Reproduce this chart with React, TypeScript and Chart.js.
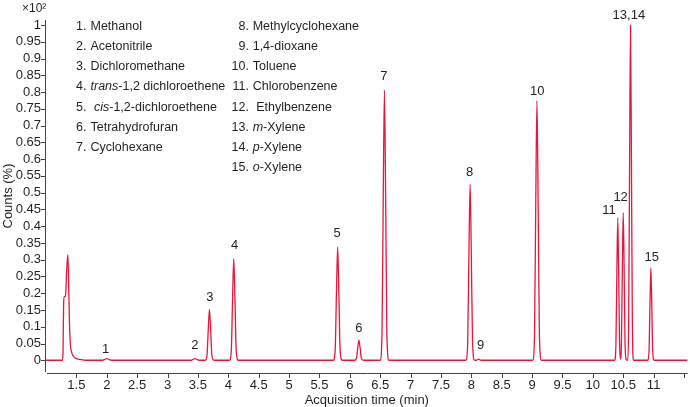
import React, { useEffect, useRef } from "react";
import { Chart, registerables } from "chart.js";

Chart.register(...registerables);

// ---- Data ----
const traceTimes = [
  1.0, 1.27,
  1.28, 1.29, 1.3, 1.315, 1.325, 1.34, 1.36, 1.37, 1.385, 1.4, 1.42, 1.45, 1.5, 1.58, 1.65, 1.72,
  1.93, 1.97, 2.0, 2.03, 2.08,
  3.39, 3.42, 3.45, 3.48, 3.52,
  3.62, 3.65, 3.67, 3.69, 3.71, 3.73, 3.765,
  4.02, 4.05, 4.07, 4.09, 4.11, 4.13, 4.165,
  5.73, 5.76, 5.78, 5.8, 5.82, 5.84, 5.875,
  6.08, 6.11, 6.13, 6.15, 6.17, 6.19, 6.225,
  6.5, 6.53, 6.55, 6.57, 6.59, 6.61, 6.645,
  7.91, 7.94, 7.96, 7.98, 8.0, 8.02, 8.055,
  8.08, 8.12, 8.16,
  9.01, 9.04, 9.06, 9.08, 9.1, 9.12, 9.155,
  10.36, 10.38, 10.395, 10.41, 10.425, 10.44, 10.455,
  10.47, 10.485, 10.5, 10.515, 10.53, 10.55,
  10.575, 10.59, 10.605, 10.62, 10.635, 10.65, 10.67,
  10.9, 10.925, 10.94, 10.955, 10.97, 10.985, 11.01,
  11.56,
];
const traceCounts = [
  0, 0,
  0.02, 0.17, 0.19, 0.19, 0.2, 0.27, 0.315, 0.25, 0.12, 0.05, 0.025, 0.012, 0.005, 0.002, 0.0, 0,
  0, 0.003, 0.005, 0.003, 0,
  0, 0.003, 0.005, 0.003, 0,
  0, 0.015, 0.09, 0.152, 0.09, 0.015, 0,
  0, 0.03, 0.18, 0.303, 0.18, 0.03, 0,
  0, 0.034, 0.2, 0.338, 0.2, 0.034, 0,
  0, 0.006, 0.036, 0.06, 0.036, 0.006, 0,
  0, 0.08, 0.48, 0.806, 0.48, 0.08, 0,
  0, 0.052, 0.315, 0.525, 0.315, 0.052, 0,
  0, 0.003, 0,
  0, 0.077, 0.46, 0.774, 0.46, 0.077, 0,
  0, 0.05, 0.26, 0.425, 0.26, 0.05, 0.003,
  0.05, 0.27, 0.44, 0.27, 0.05, 0.002,
  0, 0.12, 0.6, 1.0, 0.6, 0.12, 0,
  0, 0.03, 0.165, 0.275, 0.165, 0.03, 0,
  0,
];

const peakLabels = ["1", "2", "3", "4", "5", "6", "7", "8", "9", "10", "11", "12", "13,14", "15"];
const peakLabelTimes = [1.98, 3.45, 3.695, 4.105, 5.79, 6.15, 6.562, 7.972, 8.153, 9.086, 10.264, 10.457, 10.593, 10.97];
const peakLabelCounts = [0.033, 0.045, 0.188, 0.343, 0.379, 0.096, 0.848, 0.561, 0.045, 0.803, 0.448, 0.487, 1.03, 0.307];

const compoundNumbersLeft = ["1.", "2.", "3.", "4.", "5.", "6.", "7."];
const compoundNamesLeft = [
  "Methanol",
  "Acetonitrile",
  "Dichloromethane",
  "*trans*-1,2 dichloroethene",
  " *cis*-1,2-dichloroethene",
  "Tetrahydrofuran",
  "Cyclohexane",
];
const compoundNumbersRight = ["8.", "9.", "10.", "11.", "12.", "13.", "14.", "15."];
const compoundNamesRight = [
  "Methylcyclohexane",
  "1,4-dioxane",
  "Toluene",
  "Chlorobenzene",
  " Ethylbenzene",
  "*m*-Xylene",
  "*p*-Xylene",
  "*o*-Xylene",
];

const xMin = 1.0;
const xMax = 11.56;
const xTickValues = [1.5, 2, 2.5, 3, 3.5, 4, 4.5, 5, 5.5, 6, 6.5, 7, 7.5, 8, 8.5, 9, 9.5, 10, 10.5, 11, 11.5];
const xTickLabels = ["1.5", "2", "2.5", "3", "3.5", "4", "4.5", "5", "5.5", "6", "6.5", "7", "7.5", "8", "8.5", "9", "9.5", "10", "10.5", "11", ""];
const yMin = -0.035;
const yMax = 1.015;
const yTickValues = [0, 0.05, 0.1, 0.15, 0.2, 0.25, 0.3, 0.35, 0.4, 0.45, 0.5, 0.55, 0.6, 0.65, 0.7, 0.75, 0.8, 0.85, 0.9, 0.95, 1];
const yTickLabels = ["0", "0.05", "0.1", "0.15", "0.2", "0.25", "0.3", "0.35", "0.4", "0.45", "0.5", "0.55", "0.6", "0.65", "0.7", "0.75", "0.8", "0.85", "0.9", "0.95", "1"];

const xTitle = "Acquisition time (min)";
const yTitle = "Counts (%)";
const yMultiplier = "×10²";

// ---- Styles ----
const LINE = "#e2183f";
const TEXT = "#231f20";
const AXIS = "#444";
const FONT = "'Liberation Sans', Arial, sans-serif";

function drawSegments(ctx: CanvasRenderingContext2D, text: string, x: number, y: number, size: number) {
  const parts = text.split("*");
  let cx = x;
  parts.forEach((p, i) => {
    ctx.font = `${i % 2 === 1 ? "italic " : ""}${size}px ${FONT}`;
    ctx.fillText(p, cx, y);
    cx += ctx.measureText(p).width;
  });
}

const overlayPlugin = {
  id: "overlay",
  afterDraw(chart: any) {
    const { ctx, chartArea, scales } = chart;
    const xs = scales.x;
    const ys = scales.y;
    ctx.save();

    // axis lines and tick marks
    ctx.strokeStyle = AXIS;
    ctx.lineWidth = 1;
    ctx.beginPath();
    ctx.moveTo(chartArea.left - 0.5, chartArea.top);
    ctx.lineTo(chartArea.left - 0.5, chartArea.bottom);
    ctx.moveTo(chartArea.left + 1, chartArea.bottom + 1.5);
    ctx.lineTo(chartArea.right, chartArea.bottom + 1.5);
    ys.ticks.forEach((t: any) => {
      const py = Math.round(ys.getPixelForValue(t.value)) + 0.5;
      ctx.moveTo(chartArea.left - 5, py);
      ctx.lineTo(chartArea.left - 1, py);
    });
    xs.ticks.forEach((t: any) => {
      const px = Math.round(xs.getPixelForValue(t.value)) + 0.5;
      ctx.moveTo(px, chartArea.bottom + 2);
      ctx.lineTo(px, chartArea.bottom + 6);
    });
    ctx.stroke();

    ctx.fillStyle = TEXT;

    // peak labels
    ctx.font = `13px ${FONT}`;
    ctx.textAlign = "center";
    ctx.textBaseline = "middle";
    peakLabels.forEach((lab, i) => {
      ctx.fillText(lab, xs.getPixelForValue(peakLabelTimes[i]), ys.getPixelForValue(peakLabelCounts[i]));
    });

    // compound legend
    const rowTop = chartArea.top + 6.7;
    const rowGap = 20.1;
    const drawCol = (nums: string[], names: string[], numRight: number, textLeft: number) => {
      nums.forEach((n, i) => {
        const y = rowTop + i * rowGap;
        ctx.font = `12.5px ${FONT}`;
        ctx.textAlign = "right";
        ctx.fillText(n, numRight, y);
        ctx.textAlign = "left";
        drawSegments(ctx, names[i], textLeft, y, 12.5);
      });
    };
    drawCol(compoundNumbersLeft, compoundNamesLeft, chartArea.left + 40.5, chartArea.left + 44.5);
    drawCol(compoundNumbersRight, compoundNamesRight, chartArea.left + 203, chartArea.left + 206.7);

    // titles
    ctx.font = `13px ${FONT}`;
    ctx.textAlign = "center";
    ctx.textBaseline = "middle";
    ctx.fillText(xTitle, (chartArea.left + chartArea.right) / 2, chartArea.bottom + 28);
    ctx.save();
    ctx.translate(8, (chartArea.top + chartArea.bottom) / 2);
    ctx.rotate(-Math.PI / 2);
    ctx.fillText(yTitle, 0, 0);
    ctx.restore();
    ctx.font = `12px ${FONT}`;
    ctx.textAlign = "left";
    ctx.textBaseline = "alphabetic";
    ctx.fillText(yMultiplier, chartArea.left - 24, chartArea.top - 8);

    ctx.restore();
  },
};

export default function App() {
  const canvasRef = useRef<HTMLCanvasElement | null>(null);

  useEffect(() => {
    if (!canvasRef.current) return;
    const points = traceTimes.map((t, i) => ({ x: t, y: traceCounts[i] }));
    const chart = new Chart(canvasRef.current, {
      type: "line",
      data: {
        datasets: [
          {
            data: points,
            borderColor: LINE,
            borderWidth: 1.3,
            pointRadius: 0,
            cubicInterpolationMode: "monotone",
            fill: false,
          },
        ],
      },
      options: {
        responsive: false,
        animation: false,
        events: [],
        layout: { padding: { top: 20, right: 2, left: 0, bottom: 0 } },
        plugins: { legend: { display: false }, tooltip: { enabled: false }, title: { display: false } },
        scales: {
          x: {
            type: "linear",
            min: xMin,
            max: xMax,
            grid: { display: false, drawTicks: false },
            border: { display: false },
            afterBuildTicks: (s: any) => {
              s.ticks = xTickValues.map((v) => ({ value: v }));
            },
            afterFit: (s: any) => {
              s.height = 35;
            },
            ticks: {
              autoSkip: false,
              maxRotation: 0,
              padding: 6,
              color: TEXT,
              font: { family: FONT, size: 13 },
              callback: (_v: any, i: number) => xTickLabels[i],
            },
          },
          y: {
            type: "linear",
            min: yMin,
            max: yMax,
            grid: { display: false, drawTicks: false },
            border: { display: false },
            afterBuildTicks: (s: any) => {
              s.ticks = yTickValues.map((v) => ({ value: v }));
            },
            afterFit: (s: any) => {
              s.width = 46;
            },
            ticks: {
              autoSkip: false,
              padding: 5,
              color: TEXT,
              font: { family: FONT, size: 13 },
              callback: (_v: any, i: number) => yTickLabels[i],
            },
          },
        },
      },
      plugins: [overlayPlugin],
    });
    return () => chart.destroy();
  }, []);

  return (
    <div style={{ position: "fixed", left: 0, top: 0, width: 690, height: 407, background: "#fff" }}>
      <canvas ref={canvasRef} width={690} height={407} />
    </div>
  );
}
